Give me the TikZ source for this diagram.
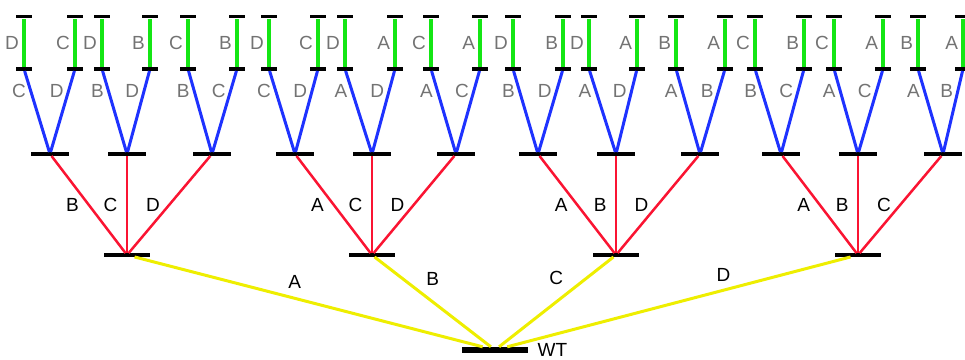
\documentclass[tikz,border=0pt]{standalone}
\usepackage{fontspec}
\setmainfont{Liberation Sans}
\usetikzlibrary{positioning}
\usepackage{xcolor}
\definecolor{yelbranch}{RGB}{238,238,0}
\definecolor{redbranch}{RGB}{250,20,50}
\definecolor{bluebranch}{RGB}{30,50,255}
\definecolor{greenbranch}{RGB}{20,230,20}

\begin{document}
\begin{tikzpicture}
			[x=1pt, y=-1pt]
			
			\tikzstyle{rootbar} = [rectangle, fill=black, inner sep=0pt, minimum width=66pt, minimum height=6pt]
			
			\tikzstyle{bigbar} = [rectangle, fill=black, inner sep=0pt, minimum width=46pt, minimum height=3.5pt]
			
			\tikzstyle{midbar} = [rectangle, fill=black, inner sep=0pt, minimum width=38pt, minimum height=3.5pt]
			
			\tikzstyle{smallbar} = [rectangle, fill=black, inner sep=0pt, minimum width=16pt, minimum height=3.5pt]
			
			\tikzstyle{yel} = [draw=yelbranch, line width=3pt]
			\tikzstyle{red} = [draw=redbranch, line width=2.5pt]
			\tikzstyle{blu} = [draw=bluebranch, line width=3pt]
			\tikzstyle{grn} = [draw=greenbranch, line width=3.5pt]
			
			\tikzstyle{lab} = [font=\fontsize{19}{19}\selectfont, text=black]
			\tikzstyle{rlab} = [lab, midway, left=5pt]
			\tikzstyle{blab} = [lab, text=black!55, pos=.75, left]
			\tikzstyle{glab} = [lab, text=black!55, midway, left]
			
			\useasboundingbox (0,0) rectangle (965,359);
			
			% root and first letter
			\node (wt) [rootbar] at (495,350) {};
			\node (wtname) [lab, right=6pt of wt] {WT};
			\node (A) [bigbar] at (127,255) {};
			\node (B) [bigbar] at (372,255) {};
			\node (C) [bigbar] at (616,255) {};
			\node (D) [bigbar] at (858,255) {};
			
			% second letter
			\node (AB) [midbar] at (50,154) {};
			\node (AC) [midbar] at (127,154) {};
			\node (AD) [midbar] at (212,154) {};
			\node (BA) [midbar] at (295,154) {};
			\node (BC) [midbar] at (372,154) {};
			\node (BD) [midbar] at (456,154) {};
			\node (CA) [midbar] at (538,154) {};
			\node (CB) [midbar] at (616,154) {};
			\node (CD) [midbar] at (700,154) {};
			\node (DA) [midbar] at (781,154) {};
			\node (DB) [midbar] at (858,154) {};
			\node (DC) [midbar] at (943,154) {};
			
			% third letter
			\node (ABC) [smallbar] at (24,69) {};
			\node (ABD) [smallbar] at (75,69) {};
			\node (ACB) [smallbar] at (102,69) {};
			\node (ACD) [smallbar] at (150,69) {};
			\node (ADB) [smallbar] at (188,69) {};
			\node (ADC) [smallbar] at (237,69) {};
			\node (BAC) [smallbar] at (269,69) {};
			\node (BAD) [smallbar] at (318,69) {};
			\node (BCA) [smallbar] at (345,69) {};
			\node (BCD) [smallbar] at (395,69) {};
			\node (BDA) [smallbar] at (431,69) {};
			\node (BDC) [smallbar] at (480,69) {};
			\node (CAB) [smallbar] at (513,69) {};
			\node (CAD) [smallbar] at (563,69) {};
			\node (CBA) [smallbar] at (589,69) {};
			\node (CBD) [smallbar] at (637,69) {};
			\node (CDA) [smallbar] at (676,69) {};
			\node (CDB) [smallbar] at (725,69) {};
			\node (DAB) [smallbar] at (755,69) {};
			\node (DAC) [smallbar] at (804,69) {};
			\node (DBA) [smallbar] at (834,69) {};
			\node (DBC) [smallbar] at (883,69) {};
			\node (DCA) [smallbar] at (918,69) {};
			\node (DCB) [smallbar] at (963,69) {};
			
			% last letter
			\node (ABCD) [smallbar, above=48.5pt of ABC] {};
			\node (ABDC) [smallbar, above=48.5pt of ABD] {};
			\node (ACBD) [smallbar, above=48.5pt of ACB] {};
			\node (ACDB) [smallbar, above=48.5pt of ACD] {};
			\node (ADBC) [smallbar, above=48.5pt of ADB] {};
			\node (ADCB) [smallbar, above=48.5pt of ADC] {};
			\node (BACD) [smallbar, above=48.5pt of BAC] {};
			\node (BADC) [smallbar, above=48.5pt of BAD] {};
			\node (BCAD) [smallbar, above=48.5pt of BCA] {};
			\node (BCDA) [smallbar, above=48.5pt of BCD] {};
			\node (BDAC) [smallbar, above=48.5pt of BDA] {};
			\node (BDCA) [smallbar, above=48.5pt of BDC] {};
			\node (CABD) [smallbar, above=48.5pt of CAB] {};
			\node (CADB) [smallbar, above=48.5pt of CAD] {};
			\node (CBAD) [smallbar, above=48.5pt of CBA] {};
			\node (CBDA) [smallbar, above=48.5pt of CBD] {};
			\node (CDAB) [smallbar, above=48.5pt of CDA] {};
			\node (CDBA) [smallbar, above=48.5pt of CDB] {};
			\node (DABC) [smallbar, above=48.5pt of DAB] {};
			\node (DACB) [smallbar, above=48.5pt of DAC] {};
			\node (DBAC) [smallbar, above=48.5pt of DBA] {};
			\node (DBCA) [smallbar, above=48.5pt of DBC] {};
			\node (DCAB) [smallbar, above=48.5pt of DCA] {};
			\node (DCBA) [smallbar, above=48.5pt of DCB] {};
			
			\draw [yel] (A) -- node [lab, pos=.46, above=5pt]{A} (wt);
			\draw [yel] (B) -- node [lab, midway, above=12pt]{B} (wt);
			\draw [yel] (C) -- node [lab, midway, above=12pt]{C} (wt);
			\draw [yel] (D) -- node [lab, pos=.37, above=4pt]{D} (wt);
			
			\draw [red] (A) -- node [rlab]{B} (AB);
			\draw [red] (A) -- node [rlab]{C} (AC);
			\draw [red] (A) -- node [rlab]{D} (AD);
			\draw [red] (B) -- node [rlab]{A} (BA);
			\draw [red] (B) -- node [rlab]{C} (BC);
			\draw [red] (B) -- node [rlab]{D} (BD);
			\draw [red] (C) -- node [rlab]{A} (CA);
			\draw [red] (C) -- node [rlab]{B} (CB);
			\draw [red] (C) -- node [rlab]{D} (CD);
			\draw [red] (D) -- node [rlab]{A} (DA);
			\draw [red] (D) -- node [rlab]{B} (DB);
			\draw [red] (D) -- node [rlab]{C} (DC);
			
			\draw [blu] (AB) -- node [blab]{C} (ABC);
			\draw [blu] (AB) -- node [blab]{D} (ABD);
			\draw [blu] (AC) -- node [blab]{B} (ACB);
			\draw [blu] (AC) -- node [blab]{D} (ACD);
			\draw [blu] (AD) -- node [blab]{B} (ADB);
			\draw [blu] (AD) -- node [blab]{C} (ADC);
			\draw [blu] (BA) -- node [blab]{C} (BAC);
			\draw [blu] (BA) -- node [blab]{D} (BAD);
			\draw [blu] (BC) -- node [blab]{A} (BCA);
			\draw [blu] (BC) -- node [blab]{D} (BCD);
			\draw [blu] (BD) -- node [blab]{A} (BDA);
			\draw [blu] (BD) -- node [blab]{C} (BDC);
			\draw [blu] (CA) -- node [blab]{B} (CAB);
			\draw [blu] (CA) -- node [blab]{D} (CAD);
			\draw [blu] (CB) -- node [blab]{A} (CBA);
			\draw [blu] (CB) -- node [blab]{D} (CBD);
			\draw [blu] (CD) -- node [blab]{A} (CDA);
			\draw [blu] (CD) -- node [blab]{B} (CDB);
			\draw [blu] (DA) -- node [blab]{B} (DAB);
			\draw [blu] (DA) -- node [blab]{C} (DAC);
			\draw [blu] (DB) -- node [blab]{A} (DBA);
			\draw [blu] (DB) -- node [blab]{C} (DBC);
			\draw [blu] (DC) -- node [blab]{A} (DCA);
			\draw [blu] (DC) -- node [blab]{B} (DCB);
			
			\draw [grn] (ABC) -- node [glab]{D} (ABCD);
			\draw [grn] (ABD) -- node [glab]{C} (ABDC);
			\draw [grn] (ACB) -- node [glab]{D} (ACBD);
			\draw [grn] (ACD) -- node [glab]{B} (ACDB);
			\draw [grn] (ADB) -- node [glab]{C} (ADBC);
			\draw [grn] (ADC) -- node [glab]{B} (ADCB);
			\draw [grn] (BAC) -- node [glab]{D} (BACD);
			\draw [grn] (BAD) -- node [glab]{C} (BADC);
			\draw [grn] (BCA) -- node [glab]{D} (BCAD);
			\draw [grn] (BCD) -- node [glab]{A} (BCDA);
			\draw [grn] (BDA) -- node [glab]{C} (BDAC);
			\draw [grn] (BDC) -- node [glab]{A} (BDCA);
			\draw [grn] (CAB) -- node [glab]{D} (CABD);
			\draw [grn] (CAD) -- node [glab]{B} (CADB);
			\draw [grn] (CBA) -- node [glab]{D} (CBAD);
			\draw [grn] (CBD) -- node [glab]{A} (CBDA);
			\draw [grn] (CDA) -- node [glab]{B} (CDAB);
			\draw [grn] (CDB) -- node [glab]{A} (CDBA);
			\draw [grn] (DAB) -- node [glab]{C} (DABC);
			\draw [grn] (DAC) -- node [glab]{B} (DACB);
			\draw [grn] (DBA) -- node [glab]{C} (DBAC);
			\draw [grn] (DBC) -- node [glab]{A} (DBCA);
			\draw [grn] (DCA) -- node [glab]{B} (DCAB);
			\draw [grn] (DCB) -- node [glab]{A} (DCBA);
			
		\end{tikzpicture}
\end{document}
